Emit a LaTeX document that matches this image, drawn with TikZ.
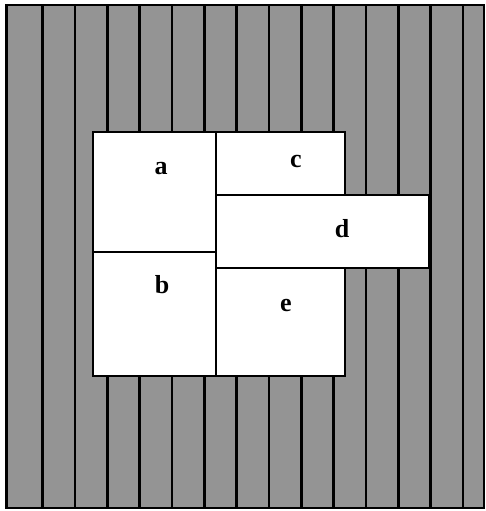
\documentclass[tikz,border=0pt]{standalone}
\usepackage{fontspec}
\setmainfont{Liberation Serif}
\usetikzlibrary{positioning}

\begin{document}
\begin{tikzpicture}[
    x=1pt, y=-1pt,
    field/.style={draw, line width=2.6pt, fill=black!42},
    stripe/.style={line width=2.6pt},
    room/.style={draw, line width=2.4pt, fill=white, anchor=north west, inner sep=0pt},
    tag/.style={font=\fontsize{26}{30}\selectfont\bfseries, anchor=base}
]
    \useasboundingbox (0,0) rectangle (486,511);

    % hatched ground
    \draw[field] (6.7,5) rectangle (484,508);
    \foreach \k in {0,...,13}
        \draw[stripe] ({42.7+32.33*\k},5) -- ({42.7+32.33*\k},508);

    % rooms
    \node[room, minimum width=123pt, minimum height=120pt] (a) at (92,131) {};
    \node[room, minimum width=123pt, minimum height=124pt] (b) at (92,251) {};
    \node[room, minimum width=129pt, minimum height=63pt] (c) at (215,131) {};
    \node[room, minimum width=213pt, minimum height=73pt] (d) at (215,194) {};
    \node[room, minimum width=129pt, minimum height=108pt] (e) at (215,267) {};

    \node[tag] (la) at (161,174) {a};
    \node[tag] (lb) at (162,293) {b};
    \node[tag] (lc) at (296,167) {c};
    \node[tag] (ld) at (342,237) {d};
    \node[tag] (le) at (286,311) {e};
\end{tikzpicture}
\end{document}
